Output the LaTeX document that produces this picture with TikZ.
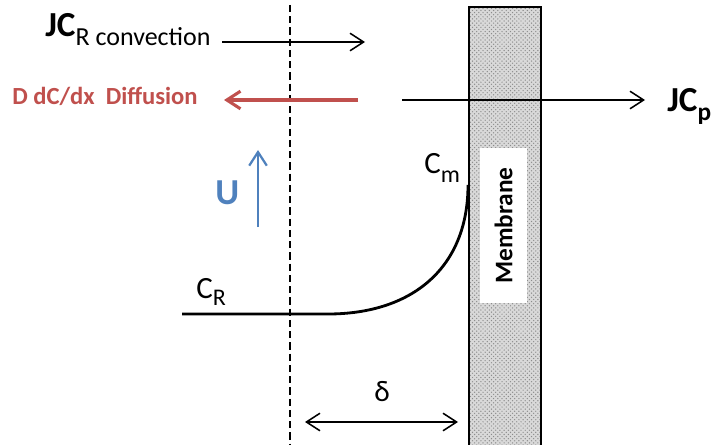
\documentclass[tikz,border=0pt]{standalone}
\usepackage{fontspec}
\setmainfont{Carlito}
\usetikzlibrary{arrows.meta,patterns,positioning}
\definecolor{diffred}{RGB}{192,80,77}
\definecolor{ublue}{RGB}{79,129,189}

\begin{document}
\begin{tikzpicture}[x=0.025cm,y=-0.025cm,
  lbl/.style={inner sep=0pt,anchor=base west},
  arr/.style={-{Straight Barb[length=3.4mm,width=4.4mm]},line width=1.1pt},
  dbl/.style={{Straight Barb[length=3.4mm,width=4.4mm]}-{Straight Barb[length=3.4mm,width=4.4mm]},line width=1.1pt}
]
  \useasboundingbox (0,0) rectangle (720,445);
  % Membrane
  \node[draw,line width=1.4pt,preaction={fill=gray!30},pattern=crosshatch dots,pattern color=gray!90,
    anchor=north west,minimum width=1.8cm,minimum height=11.1cm,inner sep=0pt] (mem) at (468,6) {};
  \node[fill=white,rotate=90,minimum width=3.88cm,minimum height=1.18cm,inner sep=0pt,
    font=\fontsize{18}{18}\selectfont\bfseries] (memlbl) at (503.5,225.5) {Membrane};
  % Boundary layer edge
  \coordinate (bt) at (290,5);
  \coordinate (bb) at (290,448);
  \draw[line width=2pt,dash pattern=on 5pt off 3pt] (bt) -- (bb);
  % Fluxes
  \node[lbl] (jcr) at (45,37) {\fontsize{25}{25}\selectfont\bfseries JC\raisebox{-5.7pt}{\fontsize{18.5}{18.5}\selectfont\mdseries R convection}};
  \coordinate (cv1) at (222,42);
  \coordinate (cv2) at (365,42);
  \draw[arr] (cv1) -- (cv2);
  \node[lbl,text=diffred] (diff) at (12,105) {\fontsize{17.5}{17.5}\selectfont\bfseries D dC/dx\ \ Diffusion};
  \coordinate (df1) at (358,100);
  \coordinate (df2) at (224,100);
  \draw[arr,diffred,line width=2.2pt] (df1) -- (df2);
  \coordinate (pm1) at (402,100);
  \coordinate (pm2) at (645,100);
  \draw[arr] (pm1) -- (pm2);
  \node[lbl] (jcp) at (667,112) {\fontsize{25}{25}\selectfont\bfseries JC\raisebox{-6pt}{\fontsize{18}{18}\selectfont p}};
  % Velocity
  \node[lbl,text=ublue] (u) at (215,204) {\fontsize{26}{26}\selectfont\bfseries U};
  \coordinate (u1) at (258,227);
  \coordinate (u2) at (258,150);
  \draw[arr,ublue,line width=1.6pt] (u1) -- (u2);
  % Concentration profile
  \node[lbl] (cm) at (424,174) {\fontsize{22}{22}\selectfont C\raisebox{-6pt}{\fontsize{17}{17}\selectfont m}};
  \node[lbl] (cr) at (196,298) {\fontsize{22}{22}\selectfont C\raisebox{-5pt}{\fontsize{17}{17}\selectfont R}};
  \coordinate (p0) at (182,314);
  \coordinate (p1) at (328,314);
  \coordinate (p2) at (468,185);
  \draw[line width=2pt] (p0) -- (p1) .. controls (412,314) and (468,268) .. (p2);
  % Thickness
  \coordinate (d1) at (305,422);
  \coordinate (d2) at (458,422);
  \draw[dbl] (d1) -- (d2);
  \node[inner sep=0pt,anchor=base] (delta) at (382,401) {\fontsize{21}{21}\selectfont δ};
\end{tikzpicture}
\end{document}
